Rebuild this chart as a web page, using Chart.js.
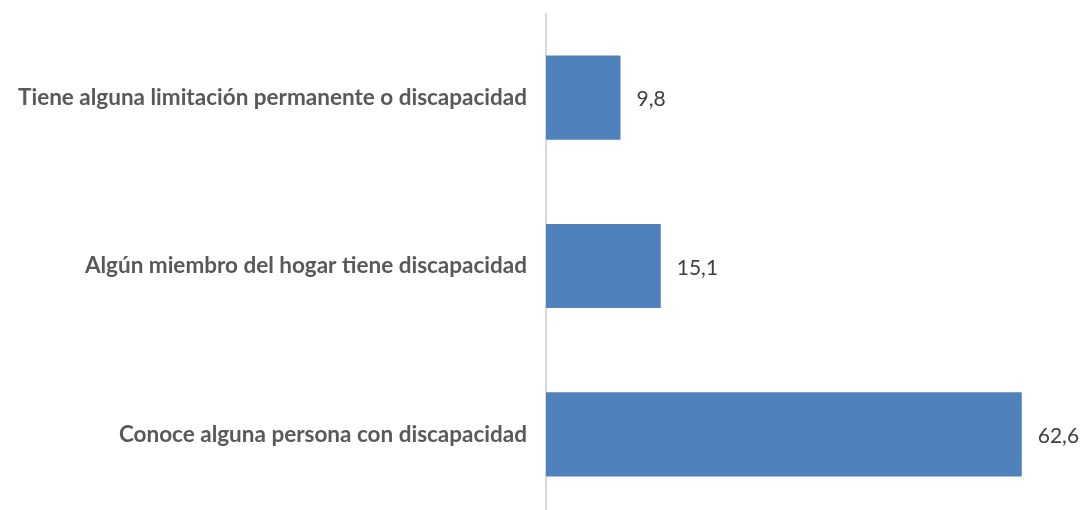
<!DOCTYPE html>
<html>
<head>
<meta charset="utf-8">
<script src="https://cdn.jsdelivr.net/npm/chart.js@4.4.0/dist/chart.umd.min.js"></script>
<style>
  html, body { margin: 0; padding: 0; background: #fff; overflow: hidden; }
  #wrap { position: relative; width: 1085px; height: 554px; margin-top: -11px; }
</style>
</head>
<body>
<div id="wrap"><canvas id="chart"></canvas></div>
<script>
const categories = [
  'Tiene alguna limitación permanente o discapacidad',
  'Algún miembro del hogar tiene discapacidad',
  'Conoce alguna persona con discapacidad'
];
const values = [9.8, 15.1, 62.6];
const valueLabels = ['9,8', '15,1', '62,6'];

// value labels to the right of each bar
const barLabels = {
  id: 'barLabels',
  afterDatasetsDraw(chart){
    const ctx = chart.ctx;
    const meta = chart.getDatasetMeta(0);
    ctx.save();
    ctx.font = '21px Lato, "Open Sans", sans-serif';
    ctx.fillStyle = '#404040';
    ctx.textAlign = 'left';
    ctx.textBaseline = 'middle';
    meta.data.forEach((bar, i)=>{
      ctx.fillText(valueLabels[i], bar.x + 16, bar.y + 2);
    });
    ctx.restore();
  }
};

new Chart(document.getElementById('chart').getContext('2d'), {
  type: 'bar',
  data: {
    labels: categories,
    datasets: [{
      data: values,
      backgroundColor: '#4f81bd',
      borderWidth: 0,
      categoryPercentage: 1,
      barPercentage: 0.5
    }]
  },
  options: {
    indexAxis: 'y',
    responsive: true,
    maintainAspectRatio: false,
    animation: false,
    layout: { padding: { top: 0, right: 7, bottom: 0, left: 0 } },
    plugins: { legend: { display: false }, tooltip: { enabled: false } },
    scales: {
      x: { display: false, min: 0, max: 70 },
      y: {
        grid: { display: false },
        border: { display: true, color: '#d9d9d9', width: 2 },
        ticks: {
          color: '#595959',
          padding: 11,
          font: { family: 'Lato, "Open Sans", sans-serif', size: 22.5, weight: 'bold' }
        },
        afterFit(scale){ scale.width = 546; }
      }
    }
  },
  plugins: [barLabels]
});
</script>
</body>
</html>
